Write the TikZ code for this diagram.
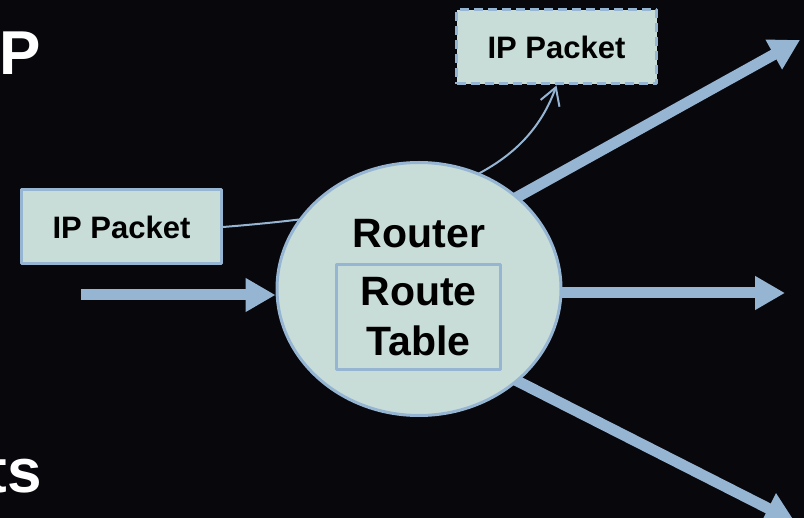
\documentclass[tikz,border=0pt]{standalone}
\usepackage{fontspec}
\setmainfont{Liberation Sans}
\usepackage{xcolor}
\usetikzlibrary{arrows.meta,shapes.geometric}
\definecolor{slidebg}{RGB}{8,7,12}
\definecolor{palefill}{RGB}{201,221,216}
\definecolor{edgeblue}{RGB}{149,181,211}
\pgfdeclarelayer{behind}
\pgfsetlayers{behind,main}

\begin{document}
\begin{tikzpicture}[line cap=butt,line join=round,x=1pt,y=-1pt,
        fatarrow/.style={draw=edgeblue,line width=11pt,-{Triangle[width=32pt,length=30pt]}},
        pktline/.style={draw=edgeblue,line width=2pt,-{Straight Barb[width=20pt,length=17pt]}},
        pktbox/.style={draw=edgeblue,line width=3pt,fill=palefill,inner sep=0pt,
            minimum width=200pt,minimum height=74pt,font=\bfseries\fontsize{31}{37}\selectfont},
        titletxt/.style={text=white,inner sep=0pt,font=\bfseries\fontsize{62}{70}\selectfont}]
                \useasboundingbox (0,0) rectangle (804,518);
                \begin{pgfonlayer}{behind}
                    \fill [slidebg] (0,0) rectangle (804,518);
                \end{pgfonlayer}
                % cut-off slide title
                \node[titletxt,anchor=base west] (ttlp) at (-1,75) {P};
                \node[titletxt,anchor=base east] (ttls) at (42,493) {ts};
                % packets
                \node[pktbox] (inpkt) at (121.5,227) {IP Packet};
                \node[pktbox,dash pattern=on 9pt off 5pt] (outpkt) at (556.5,47) {IP Packet};
                % router
                \node[ellipse,draw=edgeblue,line width=3pt,fill=palefill,inner sep=0pt,
                    minimum width=284pt,minimum height=253pt] (router) at (419,289) {};
                \node[anchor=base,inner sep=0pt,font=\bfseries\fontsize{41}{49}\selectfont] (routerlbl) at (419,248) {Router};
                \node[draw=edgeblue,line width=3pt,inner sep=0pt,minimum width=164pt,minimum height=105pt,
                    align=center,font=\bfseries\fontsize{41}{50}\selectfont] (rtable) at (418.5,317) {Route\\Table};
                \begin{pgfonlayer}{behind}
                    \coordinate (inA) at (81,295);
                    \coordinate (outA) at (800,40);
                    \coordinate (outB) at (785,293);
                    \coordinate (outC) at (795,522);
                    \draw [fatarrow] (inA) -- (inA -| router.west);
                    \draw [fatarrow,shorten <=-10pt] (router.43) -- (outA);
                    \draw [fatarrow,shorten <=-10pt] (router.east |- outB) -- (outB);
                    \draw [fatarrow,shorten <=-10pt] (router.-43) -- (outC);
                    \draw [pktline] (inpkt.east) .. controls +(200,-16) and +(-34,94) .. (outpkt.south);
                \end{pgfonlayer}
\end{tikzpicture}
\end{document}
